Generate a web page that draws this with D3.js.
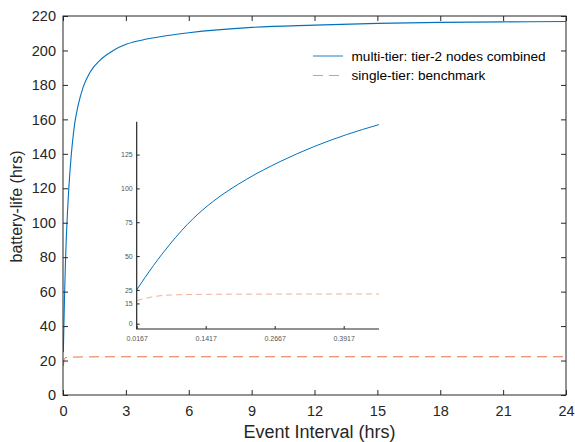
<!DOCTYPE html>
<html><head><meta charset="utf-8">
<script src="https://cdn.jsdelivr.net/npm/d3@7"></script>
<style>body{margin:0;background:#fff}svg{display:block}text{font-family:"Liberation Sans",Arial,sans-serif}</style>
</head><body><svg id="c" width="575" height="442"></svg>
<script>
// ---- data ----
const multiT = [0.0167,0.047,0.077,0.1182,0.1555,0.216,0.2764,0.3367,0.3972,0.4545,0.57,0.73,0.97,1.29,1.77,2.4,3.04,4,5,6,9,12,15,18,21,24];
const multiV = [25,43,58.8,77.4,90.5,106.8,119.8,130.7,139.8,147,158.5,168.5,179,187.4,194.4,200,203.7,206.6,208.7,210.3,213.4,214.7,215.7,216.3,216.6,216.8];
const singleT = [0.0167,0.03,0.047,0.077,0.1417,0.2667,0.456,1,3,24];
const singleV = [17,18.5,20,21.2,21.7,21.9,22,22.1,22.2,22.2];
const xTicks = [0,3,6,9,12,15,18,21,24];
const yTicks = [0,20,40,60,80,100,120,140,160,180,200,220];
const insetXTicks = [0.0167,0.1417,0.2667,0.3917];
const insetYTicks = [0,15,25,50,75,100,125];
const seriesNames = ["multi-tier: tier-2 nodes combined","single-tier: benchmark"];

const svg = d3.select("#c");
const axisCol = "#262626", blue = "#0072BD", orange = "#D95319";
const L=63, R=566, T=16, B=395;
const x = d3.scaleLinear().domain([0,24]).range([L,R]);
const y = d3.scaleLinear().domain([0,220]).range([B,T]);
const multi = multiT.map((t,i)=>[t,multiV[i]]);
const single = singleT.map((t,i)=>[t,singleV[i]]);

svg.append("clipPath").attr("id","mclip").append("rect").attr("x",L).attr("y",T).attr("width",R-L).attr("height",B-T);
const line = (xs,ys)=>d3.line().x(d=>xs(d[0])).y(d=>ys(d[1])).curve(d3.curveMonotoneX);
const gm = svg.append("g").attr("clip-path","url(#mclip)");
gm.append("path").attr("d",line(x,y)(single)).attr("fill","none").attr("stroke",orange).attr("stroke-opacity",0.8).attr("stroke-width",1).attr("stroke-dasharray","10,6");
gm.append("path").attr("d",line(x,y)(multi)).attr("fill","none").attr("stroke",blue).attr("stroke-width",1.1);

function styleAx(g,fs){g.select(".domain").remove();g.selectAll("line").attr("stroke",axisCol);g.selectAll("text").attr("fill",axisCol).attr("font-size",fs);}
svg.append("g").attr("transform",`translate(0,${B})`).call(d3.axisBottom(x).tickValues(xTicks).tickSizeInner(-5).tickSizeOuter(0).tickPadding(11).tickFormat(d3.format("d"))).call(g=>styleAx(g,14.5));
svg.append("g").attr("transform",`translate(0,${T})`).call(d3.axisTop(x).tickValues(xTicks).tickSizeInner(-5).tickSizeOuter(0).tickFormat("")).call(g=>styleAx(g,14.5));
svg.append("g").attr("transform",`translate(${L},0)`).call(d3.axisLeft(y).tickValues(yTicks).tickSizeInner(-5).tickSizeOuter(0).tickPadding(7).tickFormat(d3.format("d"))).call(g=>styleAx(g,14.5));
svg.append("g").attr("transform",`translate(${R},0)`).call(d3.axisRight(y).tickValues(yTicks).tickSizeInner(-5).tickSizeOuter(0).tickFormat("")).call(g=>styleAx(g,14.5));
svg.append("rect").attr("x",L).attr("y",T).attr("width",R-L).attr("height",B-T).attr("fill","none").attr("stroke",axisCol).attr("stroke-width",1);

svg.append("text").attr("x",(L+R)/2+5).attr("y",438).attr("text-anchor","middle").attr("font-size",18).attr("fill",axisCol).text("Event Interval (hrs)");
svg.append("text").attr("transform",`translate(22,${(T+B)/2+1}) rotate(-90)`).attr("text-anchor","middle").attr("font-size",16).attr("fill",axisCol).text("battery-life (hrs)");

// legend
const lg = svg.append("g");
[[blue,null,0.9],[orange,"10,6",0.6]].forEach((s,i)=>{
  const yy = 56 + i*19.5;
  lg.append("line").attr("x1",313).attr("x2",343).attr("y1",yy).attr("y2",yy).attr("stroke",s[0]).attr("stroke-opacity",s[2]).attr("stroke-width",1).attr("stroke-dasharray",s[1]);
  lg.append("text").attr("x",351.5).attr("y",yy+4.6).attr("font-size",13.6).attr("fill","#000").text(seriesNames[i]);
});

// inset
const iL=136.7, iR=379, iT=121.7, iB=329;
const ix = d3.scaleLinear().domain([0.0167,0.4557]).range([iL,iR]);
const iy = d3.scaleLinear().domain([-3.9,149.3]).range([iB,iT]);
svg.append("rect").attr("x",iL).attr("y",iT).attr("width",iR-iL).attr("height",iB-iT).attr("fill","#fff");
svg.append("clipPath").attr("id","iclip").append("rect").attr("x",iL).attr("y",iT).attr("width",iR-iL).attr("height",iB-iT);
const gi = svg.append("g").attr("clip-path","url(#iclip)");
gi.append("path").attr("d",line(ix,iy)(single)).attr("fill","none").attr("stroke",orange).attr("stroke-opacity",0.45).attr("stroke-width",1).attr("stroke-dasharray","6,4");
gi.append("path").attr("d",line(ix,iy)(multi)).attr("fill","none").attr("stroke",blue).attr("stroke-width",1);
function styleIn(g){g.select(".domain").remove();g.selectAll("line").attr("stroke",axisCol);g.selectAll("text").attr("fill","#555").attr("font-size",7);}
svg.append("g").attr("transform",`translate(0,${iB})`).call(d3.axisBottom(ix).tickValues(insetXTicks).tickSizeInner(-3).tickSizeOuter(0).tickPadding(7).tickFormat(d3.format(".4f"))).call(styleIn);
svg.append("g").attr("transform",`translate(${iL},0)`).call(d3.axisLeft(iy).tickValues(insetYTicks).tickSizeInner(-3).tickSizeOuter(0).tickPadding(4).tickFormat(d3.format("d"))).call(styleIn);
svg.append("path").attr("d",`M${iL},${iT}V${iB}H${iR}`).attr("fill","none").attr("stroke",axisCol).attr("stroke-width",1.2);
</script></body></html>
